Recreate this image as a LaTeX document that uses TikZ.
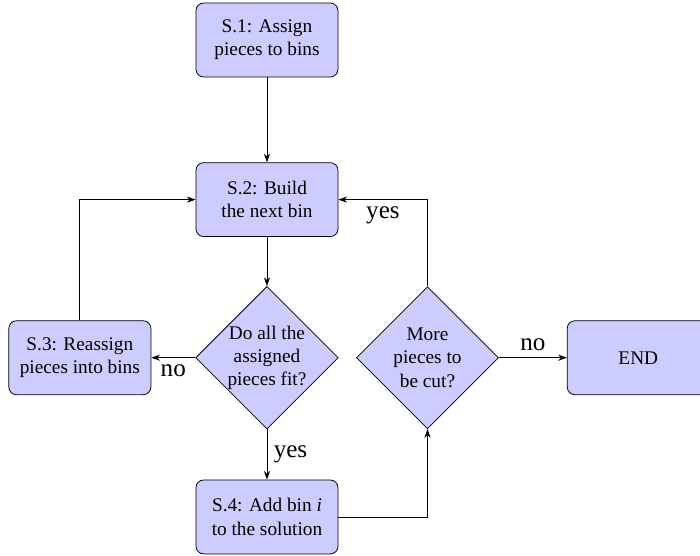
\documentclass[tikz,border=0pt]{standalone}
\usepackage{fontspec}
\setmainfont{LiberationSerif}[Extension=.ttf, UprightFont=*-Regular,
    ItalicFont=*-Italic, BoldFont=*-Bold, BoldItalicFont=*-BoldItalic]
\usetikzlibrary{arrows.meta,positioning,shapes.geometric}

\tikzset{
    block/.style = {rectangle, rounded corners, draw, fill=blue!20,
        minimum width=73.6pt, minimum height=38.3pt, align=center},
    decision/.style = {diamond, draw, fill=blue!20, aspect=1, inner sep=0pt,
        minimum width=73.6pt, minimum height=73.6pt, align=center},
    lbl/.style = {font=\fontsize{13}{15}\selectfont}
}

\begin{document}
\begin{tikzpicture}[>={Stealth[length=4.5pt,width=3.2pt]}]
            \useasboundingbox (0,0) rectangle (362.6pt,-287.5pt);
            \node [block] (assign) at (138.3pt,-20.7pt) {S.1: Assign\\pieces to bins};
            \node [block, below=44pt of assign] (build) {S.2: Build\\the next bin};
            \node [decision, below=25.4pt of build] (fit) {Do all the\\assigned\\pieces fit?};
            \node [block, below=26pt of fit] (add) {S.4: Add bin \textit{i}\\to the solution};
            \node [block, left=22.8pt of fit] (reassign) {S.3: Reassign\\pieces into bins};
            \node [decision, right=9pt of fit] (more) {More\\pieces to\\be cut?};
            \node [block, right=35.2pt of more] (finish) {END};

            \draw [->] (assign) -- (build);
            \draw [->] (build) -- (fit);
            \draw [->] (fit) -- node [lbl, right] {yes} (add);
            \draw [->] (fit) -- node [lbl, below] {no} (reassign);
            \draw [->] (reassign.north) |- (build.west);
            \draw [->] (add.east) -| (more.south);
            \draw [->] (more.north) |- node [lbl, pos=0.75, below] {yes} (build.east);
            \draw [->] (more) -- node [lbl, above] {no} (finish);
        \end{tikzpicture}
\end{document}
